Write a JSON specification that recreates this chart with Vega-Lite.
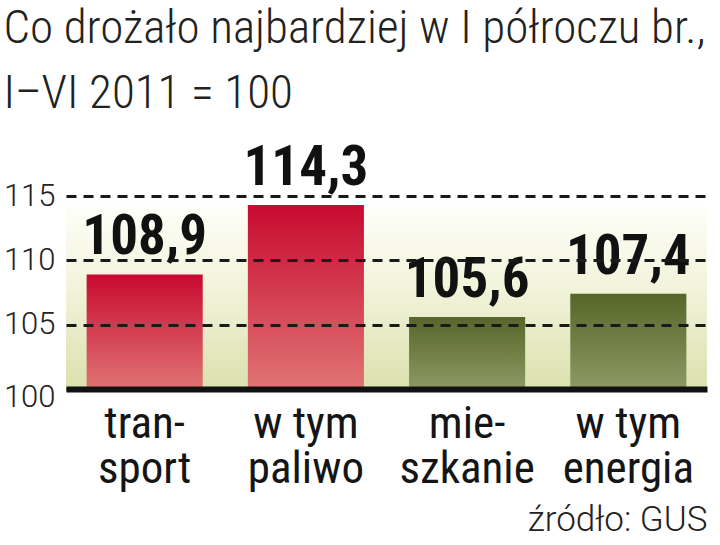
{
  "$schema": "https://vega.github.io/schema/vega-lite/v6.json",
  "width": 641,
  "height": 193,
  "autosize": "none",
  "padding": {"left": 66, "top": 196, "right": 13, "bottom": 156},
  "background": "#ffffff",
  "config": {
    "view": {"stroke": null},
    "locale": {"number": {"decimal": ",", "thousands": " ", "grouping": [3], "currency": ["", " zł"]}}
  },
  "title": {
    "text": ["Co drożało najbardziej w I półroczu br.,", "I–VI 2011 = 100"],
    "font": "Roboto Condensed, DejaVu Sans Condensed, sans-serif",
    "fontWeight": 300,
    "fontSize": 47,
    "lineHeight": 65,
    "color": "#222222",
    "anchor": "start",
    "frame": "bounds",
    "offset": 23
  },
  "datasets": {
    "bars": [
      {"kategoria": "tran-\nsport", "wartosc": 108.9, "grupa": "transport"},
      {"kategoria": "w tym\npaliwo", "wartosc": 114.3, "grupa": "transport"},
      {"kategoria": "mie-\nszkanie", "wartosc": 105.6, "grupa": "mieszkanie"},
      {"kategoria": "w tym\nenergia", "wartosc": 107.4, "grupa": "mieszkanie"}
    ]
  },
  "layer": [
    {
      "data": {"values": [{"tlo": "tło"}]},
      "mark": {
        "type": "rect",
        "fill": {
          "gradient": "linear", "x1": 0, "y1": 0, "x2": 0, "y2": 1,
          "stops": [
            {"offset": 0, "color": "#fefef8"},
            {"offset": 0.45, "color": "#f1f3da"},
            {"offset": 1, "color": "#dbe1ae"}
          ]
        }
      },
      "encoding": {
        "y": {
          "datum": 100, "type": "quantitative",
          "scale": {"domain": [100, 115], "nice": false, "zero": false},
          "axis": {
            "title": null,
            "values": [100, 105, 110, 115],
            "format": "d",
            "grid": true, "gridDash": [10, 7], "gridWidth": 3, "gridColor": "#1a1a1a",
            "domain": false, "ticks": false,
            "labelFont": "Roboto", "labelFontWeight": 300, "labelFontSize": 31, "labelColor": "#222222",
            "labelPadding": 11,
            "labelOffset": {"condition": {"test": "datum.value == 100", "value": 8}, "value": 0},
            "zindex": 1
          }
        },
        "y2": {"datum": 114.14}
      }
    },
    {
      "data": {"name": "bars"},
      "mark": {"type": "bar"},
      "encoding": {
        "x": {
          "field": "kategoria", "type": "nominal", "sort": null,
          "scale": {"paddingInner": 0.28, "paddingOuter": 0.128},
          "axis": {
            "title": "źródło: GUS",
            "titleFont": "Roboto", "titleFontWeight": 300, "titleFontSize": 35, "titleColor": "#222222",
            "titleAnchor": "end", "titleAlign": "right", "titlePadding": 11,
            "labelExpr": "split(datum.label, '\\n')",
            "labelFont": "Roboto Condensed, DejaVu Sans Condensed, sans-serif", "labelFontSize": 45, "labelLineHeight": 45,
            "labelColor": "#151515", "labelPadding": 12, "labelAngle": 0,
            "domain": true, "domainWidth": 6, "domainColor": "#111111",
            "ticks": false, "grid": false, "zindex": 1
          }
        },
        "y": {
          "field": "wartosc", "type": "quantitative",
          "scale": {"domain": [100, 115], "nice": false, "zero": false},
          "axis": {
            "title": null,
            "values": [100, 105, 110, 115],
            "format": "d",
            "grid": true, "gridDash": [10, 7], "gridWidth": 3, "gridColor": "#1a1a1a",
            "domain": false, "ticks": false,
            "labelFont": "Roboto", "labelFontWeight": 300, "labelFontSize": 31, "labelColor": "#222222",
            "labelPadding": 11,
            "labelOffset": {"condition": {"test": "datum.value == 100", "value": 8}, "value": 0},
            "zindex": 1
          }
        },
        "y2": {"datum": 100},
        "color": {
          "condition": {
            "test": "datum.grupa == 'transport'",
            "value": {
              "gradient": "linear", "x1": 0, "y1": 0, "x2": 0, "y2": 1,
              "stops": [
                {"offset": 0, "color": "#c80a30"},
                {"offset": 1, "color": "#e07474"}
              ]
            }
          },
          "value": {
            "gradient": "linear", "x1": 0, "y1": 0, "x2": 0, "y2": 1,
            "stops": [
              {"offset": 0, "color": "#56662a"},
              {"offset": 1, "color": "#8d9963"}
            ]
          }
        }
      }
    },
    {
      "data": {"name": "bars"},
      "mark": {"type": "text", "baseline": "alphabetic", "dy": -20, "font": "Roboto Condensed, DejaVu Sans Condensed, sans-serif", "fontWeight": "bold", "fontSize": 55, "color": "#111111"},
      "encoding": {
        "x": {"field": "kategoria", "type": "nominal", "sort": null},
        "y": {"field": "wartosc", "type": "quantitative"},
        "text": {"field": "wartosc", "type": "quantitative", "format": ".1f"}
      }
    }
  ]
}
